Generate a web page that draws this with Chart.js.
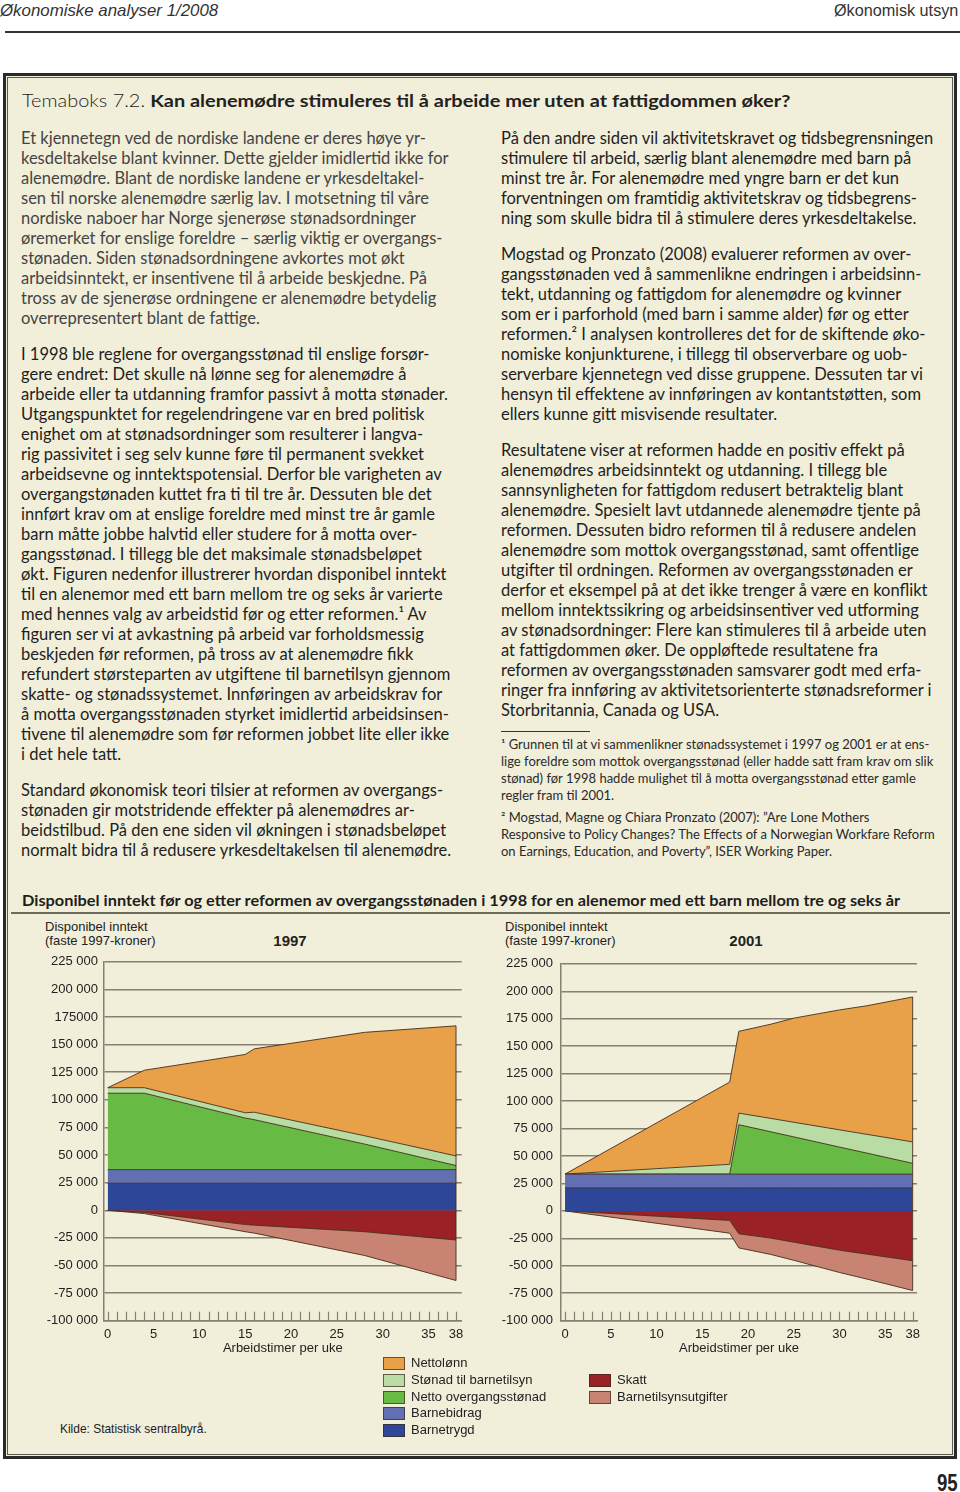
<!DOCTYPE html>
<html>
<head>
<meta charset="utf-8">
<script src="https://cdn.jsdelivr.net/npm/chart.js@4.4.1/dist/chart.umd.min.js"></script>
<style>
body { margin:0; width:960px; height:1492px; position:relative; overflow:hidden; background:#fff; font-family:Lato, "Open Sans", sans-serif; color:#1e1e1e; }
.abs { position:absolute; white-space:nowrap; }
.fit { transform-origin:0 50%; }
.box { position:absolute; left:3px; top:73px; width:954px; height:1386px; box-sizing:border-box; border:3px solid #2a2a2a; background:#f1efda; }
.box .inner { position:absolute; left:1px; top:1px; right:1px; bottom:1px; border:1px solid #5a5a50; }
.col { position:absolute; font-size:16.5px; line-height:20px; white-space:nowrap; }
.col p { margin:0 0 16px 0; }
.fn { position:absolute; left:501px; top:736px; font-size:13px; line-height:17px; white-space:nowrap; color:#2a2a2a; }
.fn p { margin:0 0 5px 0; }
.chartTxt { font-family:"Liberation Sans", Arial, sans-serif; color:#222; }
canvas { position:absolute; }
.leg { position:absolute; font-family:"Liberation Sans", Arial, sans-serif; font-size:13px; color:#222; white-space:nowrap; }
.leg i { position:absolute; left:0; top:1px; width:20px; height:11px; border:1.5px solid rgba(60,40,30,0.7); }
.leg span { position:absolute; left:28px; top:-1px; }
</style>
</head>
<body>

<div class="abs fit" data-w="218" style="left:0;top:1px;font-family:'Liberation Sans',sans-serif;font-size:17px;font-style:italic;color:#333;">Økonomiske analyser 1/2008</div>
<div class="abs fit" data-w="124" style="left:834px;top:1px;font-family:'Liberation Sans',sans-serif;font-size:17px;color:#333;">Økonomisk utsyn</div>
<div class="abs" style="left:5px;top:31px;width:955px;height:2px;background:#333;"></div>

<div class="box"><div class="inner"></div></div>

<div class="abs fit" data-w="768" style="left:22px;top:90px;font-size:17px;color:#222;"><span style="font-weight:300">Temaboks 7.2.</span> <b>Kan alenemødre stimuleres til å arbeide mer uten at fattigdommen øker?</b></div>

<div class="col" style="left:21px;top:128px;">
<p style="color:#444">Et kjennetegn ved de nordiske landene er deres høye yr-<br>kesdeltakelse blant kvinner. Dette gjelder imidlertid ikke for<br>alenemødre. Blant de nordiske landene er yrkesdeltakel-<br>sen til norske alenemødre særlig lav. I motsetning til våre<br>nordiske naboer har Norge sjenerøse stønadsordninger<br>øremerket for enslige foreldre – særlig viktig er overgangs-<br>stønaden. Siden stønadsordningene avkortes mot økt<br>arbeidsinntekt, er insentivene til å arbeide beskjedne. På<br>tross av de sjenerøse ordningene er alenemødre betydelig<br>overrepresentert blant de fattige.</p>
<p>I 1998 ble reglene for overgangsstønad til enslige forsør-<br>gere endret: Det skulle nå lønne seg for alenemødre å<br>arbeide eller ta utdanning framfor passivt å motta stønader.<br>Utgangspunktet for regelendringene var en bred politisk<br>enighet om at stønadsordninger som resulterer i langva-<br>rig passivitet i seg selv kunne føre til permanent svekket<br>arbeidsevne og inntektspotensial. Derfor ble varigheten av<br>overgangstønaden kuttet fra ti til tre år. Dessuten ble det<br>innført krav om at enslige foreldre med minst tre år gamle<br>barn måtte jobbe halvtid eller studere for å motta over-<br>gangsstønad. I tillegg ble det maksimale stønadsbeløpet<br>økt. Figuren nedenfor illustrerer hvordan disponibel inntekt<br>til en alenemor med ett barn mellom tre og seks år varierte<br>med hennes valg av arbeidstid før og etter reformen.¹ Av<br>figuren ser vi at avkastning på arbeid var forholdsmessig<br>beskjeden før reformen, på tross av at alenemødre fikk<br>refundert størsteparten av utgiftene til barnetilsyn gjennom<br>skatte- og stønadssystemet. Innføringen av arbeidskrav for<br>å motta overgangsstønaden styrket imidlertid arbeidsinsen-<br>tivene til alenemødre som før reformen jobbet lite eller ikke<br>i det hele tatt.</p>
<p>Standard økonomisk teori tilsier at reformen av overgangs-<br>stønaden gir motstridende effekter på alenemødres ar-<br>beidstilbud. På den ene siden vil økningen i stønadsbeløpet<br>normalt bidra til å redusere yrkesdeltakelsen til alenemødre.</p>
</div>

<div class="col" style="left:501px;top:128px;">
<p>På den andre siden vil aktivitetskravet og tidsbegrensningen<br>stimulere til arbeid, særlig blant alenemødre med barn på<br>minst tre år. For alenemødre med yngre barn er det kun<br>forventningen om framtidig aktivitetskrav og tidsbegrens-<br>ning som skulle bidra til å stimulere deres yrkesdeltakelse.</p>
<p>Mogstad og Pronzato (2008) evaluerer reformen av over-<br>gangsstønaden ved å sammenlikne endringen i arbeidsinn-<br>tekt, utdanning og fattigdom for alenemødre og kvinner<br>som er i parforhold (med barn i samme alder) før og etter<br>reformen.² I analysen kontrolleres det for de skiftende øko-<br>nomiske konjunkturene, i tillegg til observerbare og uob-<br>serverbare kjennetegn ved disse gruppene. Dessuten tar vi<br>hensyn til effektene av innføringen av kontantstøtten, som<br>ellers kunne gitt misvisende resultater.</p>
<p>Resultatene viser at reformen hadde en positiv effekt på<br>alenemødres arbeidsinntekt og utdanning. I tillegg ble<br>sannsynligheten for fattigdom redusert betraktelig blant<br>alenemødre. Spesielt lavt utdannede alenemødre tjente på<br>reformen. Dessuten bidro reformen til å redusere andelen<br>alenemødre som mottok overgangsstønad, samt offentlige<br>utgifter til ordningen. Reformen av overgangsstønaden er<br>derfor et eksempel på at det ikke trenger å være en konflikt<br>mellom inntektssikring og arbeidsinsentiver ved utforming<br>av stønadsordninger: Flere kan stimuleres til å arbeide uten<br>at fattigdommen øker. De oppløftede resultatene fra<br>reformen av overgangsstønaden samsvarer godt med erfa-<br>ringer fra innføring av aktivitetsorienterte stønadsreformer i<br>Storbritannia, Canada og USA.</p>
</div>

<div class="abs" style="left:501px;top:731px;width:89px;height:1px;background:#333;"></div>
<div class="fn">
<p>¹ Grunnen til at vi sammenlikner stønadssystemet i 1997 og 2001 er at ens-<br>lige foreldre som mottok overgangsstønad (eller hadde satt fram krav om slik<br>stønad) før 1998 hadde mulighet til å motta overgangsstønad etter gamle<br>regler fram til 2001.</p>
<p>² Mogstad, Magne og Chiara Pronzato (2007): ”Are Lone Mothers<br>Responsive to Policy Changes? The Effects of a Norwegian Workfare Reform<br>on Earnings, Education, and Poverty”, ISER Working Paper.</p>
</div>

<div class="abs fit" data-w="878" style="left:22px;top:891px;font-size:15px;font-weight:bold;color:#1e1e1e;">Disponibel inntekt før og etter reformen av overgangsstønaden i 1998 for en alenemor med ett barn mellom tre og seks år</div>
<div class="abs" style="left:11px;top:912px;width:939px;height:2px;background:#6b6b5e;"></div>

<div class="abs chartTxt" style="left:45px;top:920px;font-size:13px;line-height:14px;">Disponibel inntekt<br>(faste 1997-kroner)</div>
<div class="abs chartTxt" style="left:250px;top:932px;width:80px;text-align:center;font-size:15px;font-weight:bold;">1997</div>
<div class="abs chartTxt" style="left:505px;top:920px;font-size:13px;line-height:14px;">Disponibel inntekt<br>(faste 1997-kroner)</div>
<div class="abs chartTxt" style="left:706px;top:932px;width:80px;text-align:center;font-size:15px;font-weight:bold;">2001</div>

<canvas id="c1997" width="460" height="412" style="left:10px;top:948px;"></canvas>
<canvas id="c2001" width="460" height="412" style="left:466px;top:948px;"></canvas>

<div id="legend"></div>
<div class="abs fit" data-w="147" style="left:60px;top:1421px;font-family:'Liberation Sans',sans-serif;font-size:13px;color:#222;">Kilde: Statistisk sentralbyrå.</div>
<div class="abs fit" data-w="21" style="left:937px;top:1470px;font-family:'Liberation Sans',sans-serif;font-size:23px;font-weight:bold;color:#222;">95</div>

<script>
// arbeidstimer per uke (knekkpunkter lest av figuren)
const hours1997 = [0, 4, 15, 16, 28, 38];
const barnetrygd1997 = [24500, 24500, 24500, 24500, 24500, 24500];
const barnebidrag1997 = [12300, 12300, 12300, 12300, 12300, 12300];
const overgang1997 = [69200, 69200, 46700, 45200, 23200, 3700];
const barnetilsyn1997 = [5000, 5000, 4800, 6800, 7500, 8700];
const nettolonn1997 = [0, 15800, 52800, 57400, 93600, 117800];
const skatt1997 = [0, -2000, -12900, -13500, -19400, -26900];
const utgifter1997 = [0, -1000, -6500, -7200, -21500, -36700];

const hours2001 = [0, 18, 19, 22.5, 25, 30, 33, 38];
const barnetrygd2001 = [21000, 21000, 21000, 21000, 21000, 21000, 21000, 21000];
const barnebidrag2001 = [12500, 12500, 12500, 12500, 12500, 12500, 12500, 12500];
const overgang2001 = [0, 0, 45000, 38500, 33900, 24600, 19100, 9800];
const barnetilsyn2001 = [0, 8900, 10500, 12200, 13300, 15700, 17100, 19500];
const nettolonn2001 = [0, 74900, 74500, 85800, 94800, 109200, 117100, 132000];
const skatt2001 = [0, -8700, -20900, -24800, -28500, -35800, -39400, -45400];
const utgifter2001 = [0, -11600, -12800, -14900, -16500, -20300, -22700, -27100];

const xTickValues = [0, 5, 10, 15, 20, 25, 30, 35, 38];
const yTickValues = [-100000, -75000, -50000, -25000, 0, 25000, 50000, 75000, 100000, 125000, 150000, 175000, 200000, 225000];
const yLabels1997 = ['-100 000', '-75 000', '-50 000', '-25 000', '0', '25 000', '50 000', '75 000', '100 000', '125 000', '150 000', '175000', '200 000', '225 000'];
const yLabels2001 = ['-100 000', '-75 000', '-50 000', '-25 000', '0', '25 000', '50 000', '75 000', '100 000', '125 000', '150 000', '175 000', '200 000', '225 000'];

const legendCol1 = ['Nettolønn', 'Stønad til barnetilsyn', 'Netto overgangsstønad', 'Barnebidrag', 'Barnetrygd'];
const legendCol2 = ['Skatt', 'Barnetilsynsutgifter'];

const colors = {
	'Nettolønn': '#e9a149',
	'Stønad til barnetilsyn': '#b8dca4',
	'Netto overgangsstønad': '#67bb45',
	'Barnebidrag': '#636fb3',
	'Barnetrygd': '#2d4697',
	'Skatt': '#9a2226',
	'Barnetilsynsutgifter': '#c88373'
};
const gridColor = '#858071';
const lineColor = 'rgba(70,45,25,0.9)';
const tickFont = {family: 'Liberation Sans', size: 13};

// stram inn tekstlinjer til bredden i originalen
document.querySelectorAll('.fit').forEach(el => {
	const w = +el.dataset.w;
	el.style.transform = 'scaleX(' + (w / el.offsetWidth) + ')';
});

// småstreker på x-aksen og høyre kant av flatene
const extras = {
	id: 'extras',
	afterDatasetsDraw(chart) {
		const {ctx, chartArea, scales: {x}} = chart;
		ctx.save();
		ctx.strokeStyle = gridColor;
		ctx.lineWidth = 1.2;
		for (let h = 0; h <= 38; h++) {
			const px = Math.round(x.getPixelForValue(h)) + 0.5;
			ctx.beginPath();
			ctx.moveTo(px, chartArea.bottom);
			ctx.lineTo(px, chartArea.bottom - 9);
			ctx.stroke();
		}
		const metas = chart.getSortedVisibleDatasetMetas();
		const ys = metas.map(m => m.data[m.data.length - 1].y);
		const px = metas[0].data[metas[0].data.length - 1].x;
		ctx.strokeStyle = lineColor;
		ctx.lineWidth = 1;
		ctx.beginPath();
		ctx.moveTo(px, Math.min(...ys));
		ctx.lineTo(px, Math.max(...ys));
		ctx.stroke();
		ctx.restore();
	}
};

function makeChart(id, hours, pos, neg, yLabels, xMin, xMax, axisWidth, labelPad) {
	const datasets = [];
	let run = hours.map(() => 0);
	pos.forEach((s, i) => {
		run = run.map((v, k) => v + s[1][k]);
		datasets.push({
			label: s[0],
			data: hours.map((h, k) => ({x: h, y: run[k]})),
			fill: i === 0 ? 'origin' : '-1',
			backgroundColor: colors[s[0]],
			borderColor: lineColor,
			borderWidth: 1
		});
	});
	run = hours.map(() => 0);
	neg.forEach((s, i) => {
		run = run.map((v, k) => v + s[1][k]);
		datasets.push({
			label: s[0],
			data: hours.map((h, k) => ({x: h, y: run[k]})),
			fill: i === 0 ? 'origin' : '-1',
			backgroundColor: colors[s[0]],
			borderColor: lineColor,
			borderWidth: 1
		});
	});

	return new Chart(document.getElementById(id), {
		type: 'line',
		data: {datasets: datasets},
		plugins: [extras],
		options: {
			responsive: false,
			animation: false,
			devicePixelRatio: 1,
			layout: {padding: {left: 0, top: 10, right: 8.3, bottom: 0}},
			plugins: {legend: {display: false}, tooltip: {enabled: false}},
			elements: {line: {tension: 0}, point: {radius: 0}},
			scales: {
				x: {
					type: 'linear',
					min: xMin,
					max: xMax,
					afterBuildTicks: s => { s.ticks = xTickValues.map(v => ({value: v})); },
					afterFit: s => { s.height = 39.3; },
					grid: {display: false, drawTicks: false},
					border: {display: true, color: gridColor, width: 1.5},
					ticks: {padding: 6, color: '#222', font: tickFont, autoSkip: false, maxRotation: 0},
					title: {display: true, text: 'Arbeidstimer per uke', color: '#222', font: tickFont, padding: {top: 0, bottom: 4}}
				},
				y: {
					min: -100000,
					max: 225000,
					afterBuildTicks: s => { s.ticks = yTickValues.map(v => ({value: v})); },
					afterFit: s => { s.width = axisWidth; },
					grid: {color: gridColor, lineWidth: 1.5, drawTicks: false},
					border: {display: true, color: gridColor, width: 1.5},
					ticks: {
						padding: labelPad,
						color: '#222',
						font: tickFont,
						callback: v => yLabels[yTickValues.indexOf(v)]
					}
				}
			}
		}
	});
}

makeChart('c1997', hours1997,
	[['Barnetrygd', barnetrygd1997], ['Barnebidrag', barnebidrag1997], ['Netto overgangsstønad', overgang1997], ['Stønad til barnetilsyn', barnetilsyn1997], ['Nettolønn', nettolonn1997]],
	[['Skatt', skatt1997], ['Barnetilsynsutgifter', utgifter1997]],
	yLabels1997, -0.4, 38.62, 94, 6);

makeChart('c2001', hours2001,
	[['Barnetrygd', barnetrygd2001], ['Barnebidrag', barnebidrag2001], ['Netto overgangsstønad', overgang2001], ['Stønad til barnetilsyn', barnetilsyn2001], ['Nettolønn', nettolonn2001]],
	[['Skatt', skatt2001], ['Barnetilsynsutgifter', utgifter2001]],
	yLabels2001, -0.44, 38.48, 95, 8);

// felles tegnforklaring
const leg = document.getElementById('legend');
function addLegend(names, left, top) {
	names.forEach((n, i) => {
		const d = document.createElement('div');
		d.className = 'leg';
		d.style.left = left + 'px';
		d.style.top = (top + i * 16.8) + 'px';
		d.innerHTML = '<i style="background:' + colors[n] + '"></i><span>' + n + '</span>';
		leg.appendChild(d);
	});
}
addLegend(legendCol1, 383, 1356);
addLegend(legendCol2, 589, 1373);
</script>
</body>
</html>
